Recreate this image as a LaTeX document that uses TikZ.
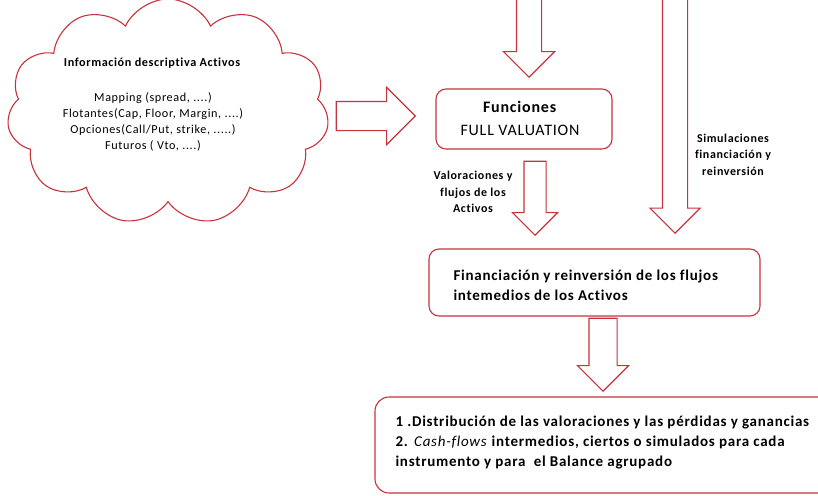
\documentclass[tikz,border=0pt]{standalone}
\usepackage{fontspec}
\setmainfont{Carlito}[LetterSpace=5,Ligatures=NoCommon]
\usetikzlibrary{shapes.symbols,shapes.arrows}
\definecolor{boxred}{RGB}{200,50,60}

\begin{document}
\begin{tikzpicture}[x=1pt,y=-1pt,line width=1.1pt,
  box/.style={draw=boxred,rounded corners=10pt,fill=white,inner sep=0pt},
  bigarrow/.style={single arrow,draw=boxred,fill=white,inner xsep=0pt,single arrow head indent=0pt,anchor=tip},
  downarrow/.style={bigarrow,rotate=-90},
  note/.style={font=\bfseries\fontsize{12}{16.5}\selectfont,align=center,inner sep=0pt}]
\clip (0,0) rectangle (818,495);
% left cloud
\node [cloud,cloud puffs=11,cloud puff arc=130,cloud ignores aspect,draw=boxred,minimum width=322pt,minimum height=226pt](info) at (168,112) {};
\node [font=\bfseries\fontsize{12.2}{16}\selectfont,inner sep=0pt](infotitle) at (152,63) {Información descriptiva Activos};
\node [font=\fontsize{12.2}{16}\selectfont,align=center,inner sep=0pt](infolist) at (153,122) {Mapping (spread, ....)\\Flotantes(Cap, Floor, Margin, ....)\\Opciones(Call/Put, strike, .....)\\Futuros ( Vto, ....)};
% arrows
\node [downarrow,minimum height=79pt,inner ysep=12pt,single arrow head extend=13pt](toparrow) at (529,78) {};
\node [bigarrow,minimum height=79pt,inner ysep=14pt,single arrow head extend=14pt](inarrow) at (416,116) {};
\node [downarrow,minimum height=74pt,inner ysep=10.5pt,single arrow head extend=11.5pt](valarrow) at (535,236) {};
\node [downarrow,minimum height=235pt,inner ysep=12pt,single arrow head extend=12.5pt](simarrow) at (675,234) {};
\node [downarrow,minimum height=73pt,inner ysep=13.5pt,single arrow head extend=11.5pt](outarrow) at (603,392) {};
% boxes
\node [box,minimum width=176pt,minimum height=60pt](fv) at (524,119) {};
\node [font=\fontsize{16}{23}\selectfont,align=center,inner sep=0pt](fvtext) at (520,118.5) {\textbf{Funciones}\\FULL VALUATION};
\node [box,minimum width=331pt,minimum height=67pt](fin) at (594.5,282.5) {};
\node [font=\bfseries\fontsize{15}{20}\selectfont,align=left,inner sep=0pt,anchor=west](fintext) at (453,285) {Financiación y reinversión de los flujos\\intemedios de los Activos};
\node [box,rounded corners=14pt,minimum width=480pt,minimum height=96pt](res) at (615,445) {};
\node [font=\bfseries\fontsize{15}{20}\selectfont,align=left,inner sep=0pt,anchor=west](restext) at (395,443) {1 .Distribución de las valoraciones y las pérdidas y ganancias\\2. \textmd{\itshape Cash-flows} intermedios, ciertos o simulados para cada\\instrumento y para\ \ el Balance agrupado};
% labels of the arrows
\node [note](valtext) at (473,192) {Valoraciones y\\flujos de los\\Activos};
\node [note](simtext) at (733,154.5) {Simulaciones\\financiación y\\reinversión};
\end{tikzpicture}
\end{document}
